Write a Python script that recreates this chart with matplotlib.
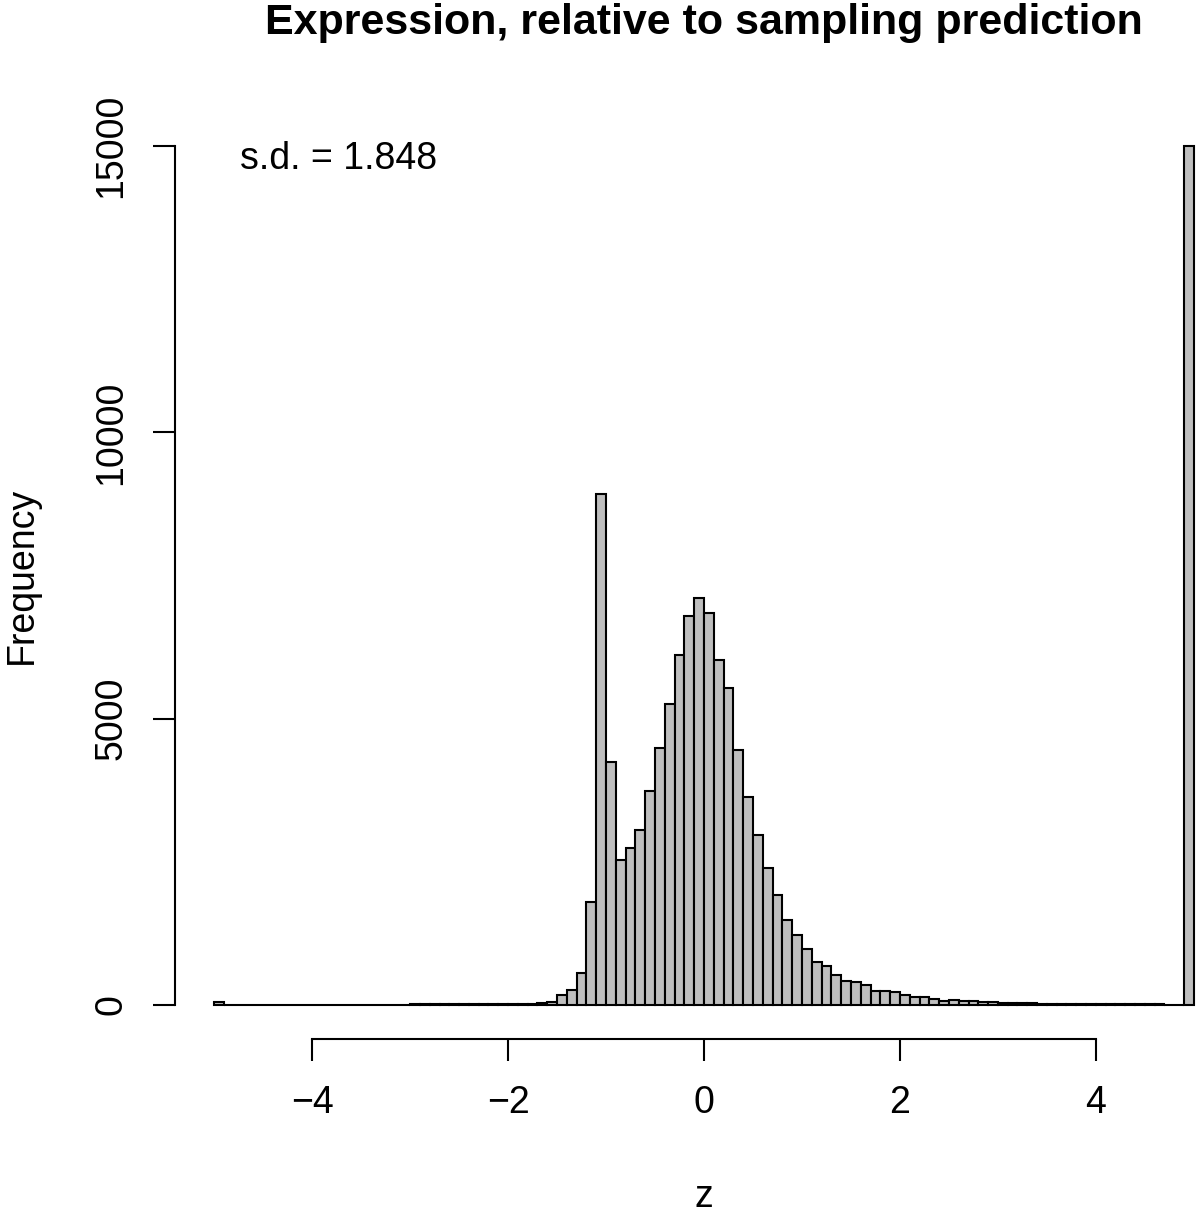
import numpy as np
import matplotlib
matplotlib.use('Agg')
import matplotlib.pyplot as plt

plt.rcParams['font.family'] = ['Liberation Sans', 'DejaVu Sans']

# histogram breaks (width 0.1 from -5 to 5) and counts
breaks = np.linspace(-5, 5, 101)
counts = [
    50, 5, 4, 4, 3, 3, 3, 3, 3, 4,                          # -5.0 .. -4.1
    4, 4, 5, 5, 5, 6, 6, 6, 7, 7,                           # -4.0 .. -3.1
    8, 8, 9, 10, 10, 12, 14, 16, 18, 20,                    # -3.0 .. -2.1
    20, 22, 25, 28, 45, 170, 265, 550, 1790, 8930,          # -2.0 .. -1.1
    4250, 2530, 2740, 3060, 3730, 4490, 5250, 6120, 6790, 7100,   # -1.0 .. -0.1
    6850, 6020, 5530, 4450, 3640, 2960, 2400, 1920, 1480, 1220,   # 0.0 .. 0.9
    985, 750, 675, 515, 410, 395, 345, 245, 245, 220,       # 1.0 .. 1.9
    170, 140, 140, 100, 70, 90, 65, 65, 45, 45,             # 2.0 .. 2.9
    38, 30, 30, 28, 25, 20, 18, 16, 15, 14,                 # 3.0 .. 3.9
    12, 12, 10, 10, 9, 8, 8, 7, 7, 15000,                   # 4.0 .. 4.9
]
sd_text = 's.d. = 1.848'
xticks = [-4, -2, 0, 2, 4]
yticks = [0, 5000, 10000, 15000]

W, H = 1200, 1214
fig = plt.figure(figsize=(W / 100, H / 100), dpi=100)
# plot region runs past the right edge (the original was cropped)
left, right, top, bottom = 175, 1233, 111.7, 1039.3
ax = fig.add_axes([left / W, 1 - bottom / H, (right - left) / W, (bottom - top) / H])

ax.bar(breaks[:-1], counts, width=0.1, align='edge', color='#bebebe',
       edgecolor='black', linewidth=1.5)

ax.set_xlim(-5.4, 5.4)
ax.set_ylim(-600, 15600)
for s in ['top', 'right']:
    ax.spines[s].set_visible(False)
ax.spines['left'].set_bounds(0, 15000)
ax.spines['bottom'].set_bounds(-4, 4)
for s in ['left', 'bottom']:
    ax.spines[s].set_linewidth(1.5)

ax.set_xticks(xticks)
ax.set_xticklabels([str(t).replace('-', '\u2212') for t in xticks])
ax.set_yticks(yticks)
ax.set_yticklabels([str(t) for t in yticks], rotation=90, va='center')
ax.tick_params(direction='out', length=16, width=1.5, labelsize=27)
ax.tick_params(axis='x', pad=17)
ax.tick_params(axis='y', pad=17)

ax.set_title('Expression, relative to sampling prediction', fontsize=31,
             fontweight='bold', pad=56)
ax.set_xlabel('z', fontsize=27)
ax.xaxis.set_label_coords(0.5, -0.181)
ax.xaxis.label.set_va('baseline')
ax.set_ylabel('Frequency', fontsize=27)
ax.yaxis.set_label_coords(-0.1276, 0.5)

ax.text(-4.735, 14600, sd_text, fontsize=27, ha='left', va='baseline')

fig.savefig('out.png', dpi=100)
